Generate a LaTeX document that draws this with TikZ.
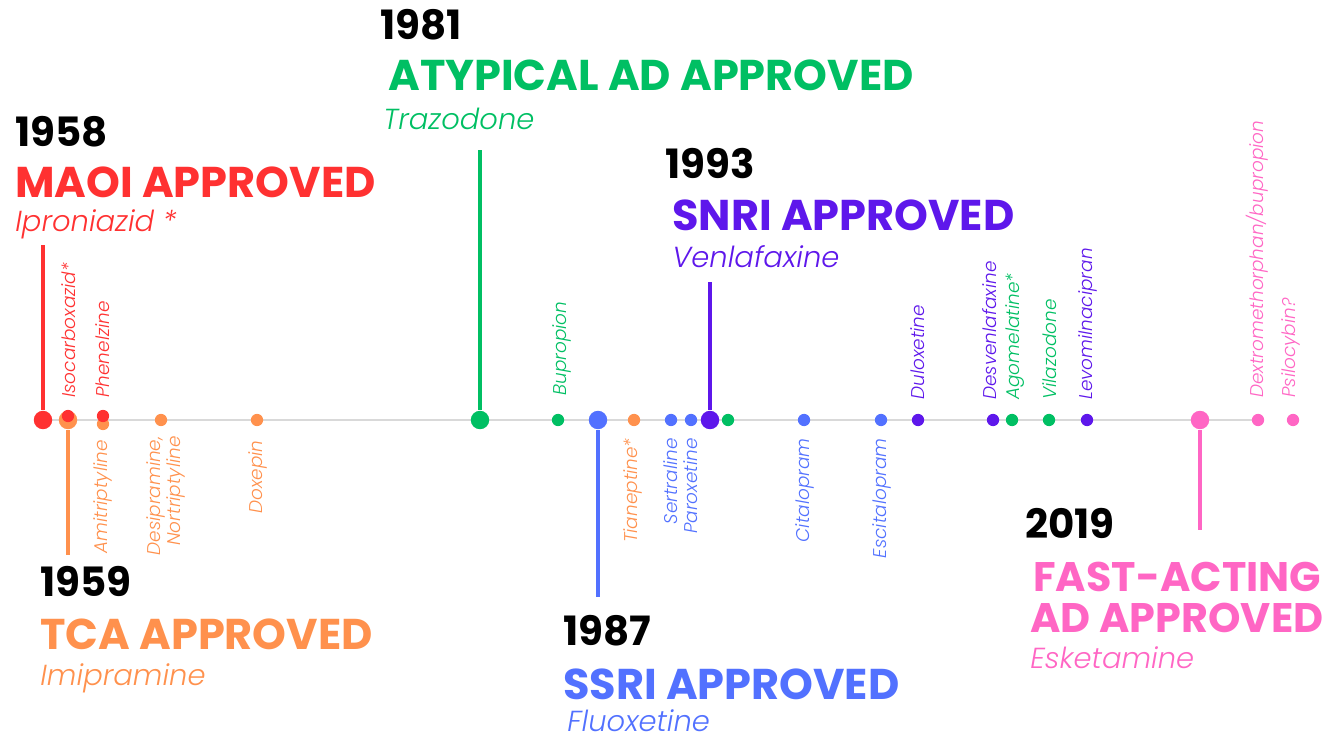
\documentclass[tikz,border=0pt]{standalone}
\usepackage{fontspec}
\setmainfont{Poppins}
\newfontfamily\drugfont{Poppins}[UprightFont=* Light Italic]
\usepackage{tikz}
\usetikzlibrary{positioning,backgrounds}

\definecolor{maoi}{HTML}{FF3131}
\definecolor{tca}{HTML}{FF914D}
\definecolor{atyp}{HTML}{00BF63}
\definecolor{ssri}{HTML}{5271FF}
\definecolor{snri}{HTML}{5E17EB}
\definecolor{fast}{HTML}{FF66C4}

\begin{document}
\begin{tikzpicture}[
				x=0.02cm, y=-0.02cm,
				year/.style={anchor=base west, inner sep=0pt, text=black, font=\bfseries\fontsize{23}{26}\selectfont},
				title/.style={anchor=base west, inner sep=0pt, font=\bfseries\fontsize{24.5}{28}\selectfont},
				drug/.style={anchor=base west, inner sep=0pt, font=\drugfont\fontsize{16.5}{19}\selectfont},
				up/.style={rotate=90, anchor=west, inner sep=0pt, font=\drugfont\fontsize{10.5}{11}\selectfont},
				down/.style={rotate=90, anchor=east, inner sep=0pt, align=right, font=\drugfont\fontsize{10.5}{11}\selectfont},
				bigdot/.style={circle, minimum size=10.5pt, inner sep=0pt},
				dot/.style={circle, minimum size=7pt, inner sep=0pt},
				stem/.style={line width=2.2pt},
				axis/.style={draw=black!15, line width=0.8pt}
				]
				\useasboundingbox (0,0) rectangle (1331,739);
				
				% dots on the time line
				\node[bigdot, fill=maoi] (maoi) at (43,420) {};
				\node[bigdot, fill=tca] (tca) at (68,420) {};
				\node[dot, fill=maoi] (isocarb) at (68,416) {};
				\node[dot, fill=tca] (amitrip) at (103,424) {};
				\node[dot, fill=maoi] (phenel) at (103,416) {};
				\node[dot, fill=tca] (desip) at (161,420) {};
				\node[dot, fill=tca] (doxep) at (257,420) {};
				\node[bigdot, fill=atyp] (atyp) at (480,420) {};
				\node[dot, fill=atyp] (buprop) at (558,420) {};
				\node[bigdot, fill=ssri] (ssri) at (598,420) {};
				\node[dot, fill=tca] (tianep) at (634,420) {};
				\node[dot, fill=ssri] (sertr) at (671,420) {};
				\node[dot, fill=ssri] (parox) at (691,420) {};
				\node[bigdot, fill=snri] (snri) at (710,420) {};
				\node[dot, fill=atyp] (atyp2) at (728,420) {};
				\node[dot, fill=ssri] (cital) at (804,420) {};
				\node[dot, fill=ssri] (escit) at (881,420) {};
				\node[dot, fill=snri] (dulox) at (918,420) {};
				\node[dot, fill=snri] (desven) at (993,420) {};
				\node[dot, fill=atyp] (agomel) at (1012,420) {};
				\node[dot, fill=atyp] (vilaz) at (1049,420) {};
				\node[dot, fill=snri] (levom) at (1087,420) {};
				\node[bigdot, fill=fast] (fast) at (1200,420) {};
				\node[dot, fill=fast] (dextro) at (1258,420) {};
				\node[dot, fill=fast] (psilo) at (1293,420) {};
				
				\begin{scope}[on background layer]
					\draw[axis] (maoi.center) -- (dextro.center);
				\end{scope}
				
				% stems
				\coordinate (maoi end) at (43,245);
				\coordinate (tca end) at (68,555);
				\coordinate (atyp end) at (480,150);
				\coordinate (ssri end) at (598,597);
				\coordinate (snri end) at (710,282);
				\coordinate (fast end) at (1200,530);
				\draw[stem, maoi] (maoi.north) -- (maoi end);
				\draw[stem, tca] (tca.south) -- (tca end);
				\draw[stem, atyp] (atyp.north) -- (atyp end);
				\draw[stem, ssri] (ssri.south) -- (ssri end);
				\draw[stem, snri] (snri.north) -- (snri end);
				\draw[stem, fast] (fast.south) -- (fast end);
				
				% headings
				\node[year] (y1958) at (15,147) {1958};
				\node[title, text=maoi] (h1958) at (15,198) {MAOI APPROVED};
				\node[drug, text=maoi] (d1958) at (15,232) {Iproniazid *};
				
				\node[year] (y1959) at (40,596) {1959};
				\node[title, text=tca] (h1959) at (40,649) {TCA APPROVED};
				\node[drug, text=tca] (d1959) at (40,685) {Imipramine};
				
				\node[year] (y1981) at (380,40) {1981};
				\node[title, text=atyp] (h1981) at (388,91) {ATYPICAL AD APPROVED};
				\node[drug, text=atyp] (d1981) at (383,130) {Trazodone};
				
				\node[year] (y1987) at (563,645) {1987};
				\node[title, text=ssri] (h1987) at (563,699) {SSRI APPROVED};
				\node[drug, text=ssri] (d1987) at (567,731) {Fluoxetine};
				
				\node[year] (y1993) at (665,179) {1993};
				\node[title, text=snri] (h1993) at (672,231) {SNRI APPROVED};
				\node[drug, text=snri] (d1993) at (672,268) {Venlafaxine};
				
				\node[year] (y2019) at (1025,538) {2019};
				\node[title, text=fast, font=\bfseries\fontsize{23.5}{28}\selectfont] (h2019) at (1033,591) {FAST-ACTING};
				\node[title, text=fast, font=\bfseries\fontsize{23.5}{28}\selectfont] (h2019b) at (1030,632) {AD APPROVED};
				\node[drug, text=fast] (d2019) at (1030,668) {Esketamine};
				
				% drug names along the line
				\node[up, text=maoi] (l-isocarb) at (69,398) {Isocarboxazid*};
				\node[up, text=maoi] (l-phenel) at (103,398) {Phenelzine};
				\node[up, text=atyp] (l-buprop) at (562,396) {Bupropion};
				\node[up, text=snri] (l-dulox) at (918,400) {Duloxetine};
				\node[up, text=snri] (l-desven) at (990,400) {Desvenlafaxine};
				\node[up, text=atyp] (l-agomel) at (1015,400) {Agomelatine*};
				\node[up, text=atyp] (l-vilaz) at (1050,400) {Vilazodone};
				\node[up, text=snri] (l-levom) at (1088,400) {Levomilnacipran};
				\node[up, text=fast] (l-dextro) at (1257,398) {Dextromethorphan/bupropion};
				\node[up, text=fast] (l-psilo) at (1291,398) {Psilocybin?};
				
				\node[down, text=tca] (l-amitrip) at (103,440) {Amitriptyline};
				\node[down, text=tca] (l-desip) at (166,436) {Desipramine,\\Nortriptyline};
				\node[down, text=tca] (l-doxep) at (258,440) {Doxepin};
				\node[down, text=tca] (l-tianep) at (633,438) {Tianeptine*};
				\node[down, text=ssri] (l-sertr) at (671,438) {Sertraline};
				\node[down, text=ssri] (l-parox) at (691,438) {Paroxetine};
				\node[down, text=ssri] (l-cital) at (805,438) {Citalopram};
				\node[down, text=ssri] (l-escit) at (882,438) {Escitalopram};
			\end{tikzpicture}
\end{document}
